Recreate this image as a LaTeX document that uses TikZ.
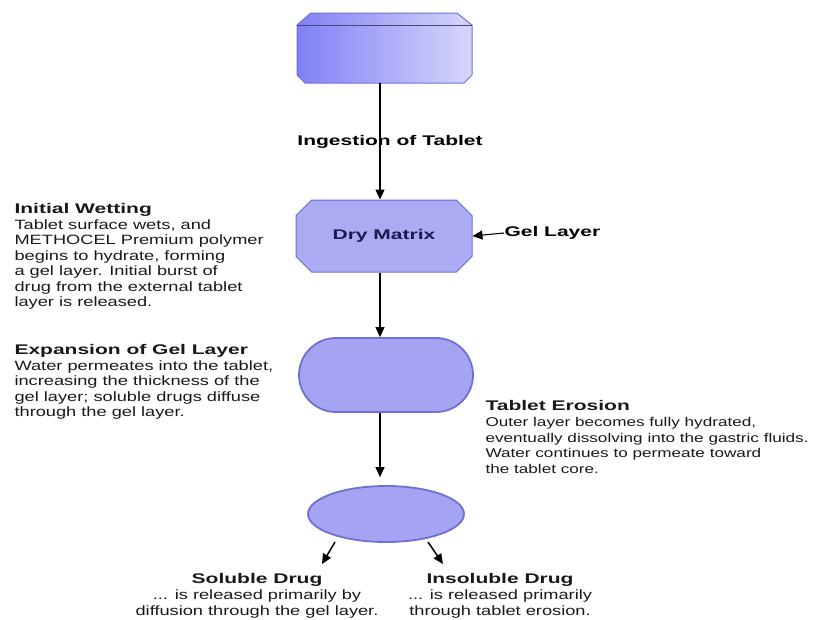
\documentclass[tikz,border=0pt]{standalone}
\usepackage{fontspec}
\setmainfont[FakeStretch=1.35,BoldFeatures={FakeStretch=1.5}]{Liberation Sans}
\usepackage{tikz}
\usetikzlibrary{positioning}
\usetikzlibrary{calc}
\usetikzlibrary{arrows.meta}
\usetikzlibrary{shapes.misc}
\usetikzlibrary{shapes.geometric}
\definecolor{capfill}{RGB}{164,164,242}
\definecolor{capline}{RGB}{112,112,212}
\definecolor{navy}{RGB}{26,26,80}
\definecolor{bodytext}{RGB}{25,25,25}
\newcommand{\hd}[1]{{\bfseries\fontsize{14}{15.5}\selectfont #1}}
\tikzset{
matrixbox/.style={
  chamfered rectangle,
  chamfered rectangle xsep=9pt,
  chamfered rectangle ysep=9pt,
  draw=capline,
  line width=1pt,
  fill=capfill!92!white,
  minimum width=176pt,
  minimum height=72pt,
  inner sep=0pt,
  text=navy,
  font=\bfseries\fontsize{14}{15.5}\selectfont
  },
capsule/.style={
  rounded rectangle,
  draw=capline,
  line width=1.8pt,
  fill=capfill,
  minimum width=174pt,
  minimum height=74pt,
  inner sep=0pt
  },
pill/.style={
  ellipse,
  draw=capline,
  line width=1.8pt,
  fill=capfill,
  minimum width=156pt,
  minimum height=56pt,
  inner sep=0pt
  },
note/.style={
  anchor=north west,
  align=left,
  inner sep=0pt,
  text=bodytext,
  font=\fontsize{13.5}{15.5}\selectfont
  },
drugnote/.style={
  anchor=north,
  align=center,
  inner sep=0pt,
  text=bodytext,
  font=\fontsize{13.5}{16}\selectfont
  },
tag/.style={
  inner sep=0pt,
  font=\bfseries\fontsize{14}{15.5}\selectfont
  }
}

\begin{document}
\begin{tikzpicture}[x=1pt,y=-1pt,->,>={Triangle[length=10pt,width=9pt]},line width=1.1pt]
    \useasboundingbox (0,0) rectangle (819,619);
    % tablet
    \shade[left color=capfill!70!blue!90, right color=capfill!45!white, draw=capline, line width=1pt]
        (311,13) -- (457,13) -- (472,25) -- (472,75) -- (464,83) -- (305,83) -- (297,75) -- (297,25) -- cycle;
    \draw[-, draw=navy!80, line width=1pt] (297,25) -- (472,25);
    \coordinate (tabletbase) at (380,83);

    % stages
    \node[matrixbox] (dry)  at (384,236) {Dry Matrix};
    \node[capsule]   (gel)  at (386,375) {};
    \node[pill]      (core) at (386,514) {};

    % labels
    \node[tag] (ingest) at (390,142) {Ingestion of Tablet};
    \node[tag, anchor=west] (gellabel) at (504,233) {Gel Layer};

    \node[note] (wetting) at (14,203) {\hd{Initial Wetting}\\
        Tablet surface wets, and\\
        METHOCEL Premium polymer\\
        begins to hydrate, forming\\
        a gel layer. Initial burst of\\
        drug from the external tablet\\
        layer is released.};
    \node[note] (expansion) at (14,344) {\hd{Expansion of Gel Layer}\\
        Water permeates into the tablet,\\
        increasing the thickness of the\\
        gel layer; soluble drugs diffuse\\
        through the gel layer.};
    \node[note, font=\fontsize{12.7}{15.7}\selectfont] (erosion) at (485,400) {\hd{Tablet Erosion}\\
        Outer layer becomes fully hydrated,\\
        eventually dissolving into the gastric fluids.\\
        Water continues to permeate toward\\
        the tablet core.};

    \node[drugnote] (soluble) at (257,573) {\hd{Soluble Drug}\\
        ... is released primarily by\\
        diffusion through the gel layer.};
    \node[drugnote] (insoluble) at (500,573) {\hd{Insoluble Drug}\\
        ... is released primarily\\
        through tablet erosion.};

    % connectors
    \coordinate (solfrom)   at (335,542);
    \coordinate (solto)     at (322,564);
    \coordinate (insolfrom) at (428,542);
    \coordinate (insolto)   at (443,564);

    \draw (tabletbase) -- (dry.north -| tabletbase);
    \draw (gellabel.west) -- (dry.east);
    \draw (dry.south -| tabletbase) -- (gel.north -| tabletbase);
    \draw[shorten >=8pt] (gel.south -| tabletbase) -- (core.north -| tabletbase);
    \draw[line width=1.5pt] (solfrom) -- (solto);
    \draw[line width=1.5pt] (insolfrom) -- (insolto);
\end{tikzpicture}
\end{document}
